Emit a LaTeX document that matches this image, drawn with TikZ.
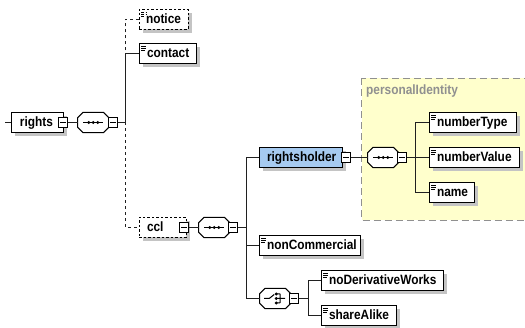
\documentclass[tikz,border=0pt]{standalone}
\usepackage{fontspec}
\setmainfont[FakeStretch=0.88]{Liberation Sans}
\usetikzlibrary{shadows}
\definecolor{shadowgray}{HTML}{C4C4C4}
\definecolor{linkgray}{HTML}{202020}
\definecolor{selblue}{HTML}{A6CAF0}
\definecolor{groupyellow}{HTML}{FFFFCC}
\definecolor{groupline}{HTML}{909090}
\tikzset{
  x=1pt,y=-1pt,
  shade box/.style={general shadow={shadow xshift=4pt,shadow yshift=-4pt,fill=shadowgray}},
  elbox/.style={draw=black,line width=1pt,fill=white,rectangle,anchor=west,inner xsep=0pt,inner ysep=0pt,
    text width=#1pt,align=left,minimum height=20pt,text height=10pt,text depth=1pt,
    font=\fontsize{13.5}{15}\selectfont\bfseries,shade box},
  optbox/.style={elbox=#1,dash pattern=on 2.5pt off 2pt},
  doc/.style={path picture={
    \draw[black,line width=.8pt]
      ([shift={(2pt,-2.5pt)}]path picture bounding box.north west) -- ++(5pt,0)
      ([shift={(2pt,-4.5pt)}]path picture bounding box.north west) -- ++(5pt,0)
      ([shift={(2pt,-6.5pt)}]path picture bounding box.north west) -- ++(3.5pt,0);}},
  compositor/.style={rectangle,inner sep=0pt,minimum width=31pt,minimum height=20pt,anchor=west},
  octline/.style={draw=black,line width=1pt,fill=white},
  minusbox/.style={draw=black,line width=1pt,fill=white,rectangle,inner sep=0pt,minimum width=9pt,minimum height=10pt,
    path picture={\draw[black,line width=1pt]
      ([xshift=-3pt]path picture bounding box.center) -- ([xshift=3pt]path picture bounding box.center);}},
  link/.style={draw=linkgray,line width=1pt},
  optlink/.style={link,dash pattern=on 3pt off 3pt},
  grouplabel/.style={text=groupline,inner sep=0pt,anchor=west,font=\fontsize{13.5}{15}\selectfont\bfseries},
  groupbox/.style={draw=groupline,fill=groupyellow,line width=1pt,dash pattern=on 7pt off 4pt},
}
\newcommand{\octpath}[1]{%
  ([xshift=5.5pt]#1.north west) -- ([xshift=-5.5pt]#1.north east) -- ([yshift=-5.5pt]#1.north east)
  -- ([yshift=5.5pt]#1.south east) -- ([xshift=-5.5pt]#1.south east) -- ([xshift=5.5pt]#1.south west)
  -- ([yshift=5.5pt]#1.south west) -- ([yshift=-5.5pt]#1.north west) -- cycle}
\newcommand{\octagon}[1]{%
  \fill[shadowgray,shift={(4pt,-4pt)}] \octpath{#1};
  \draw[octline] \octpath{#1};
}
\newcommand{\seqicon}[1]{%
  \octagon{#1}%
  \draw[black,line width=1pt] ([xshift=-10pt]#1.center) -- ([xshift=10pt]#1.center);
  \foreach \dx in {-4.5,0,4.5}{\fill[black] ([xshift=\dx pt]#1.center) circle (1.6pt);}%
}
\newcommand{\choiceicon}[1]{%
  \octagon{#1}%
  \draw[black,line width=1pt]
    ([xshift=-11pt]#1.center) -- ([xshift=-6pt]#1.center) -- ([shift={(-1pt,4pt)}]#1.center)
    ([xshift=1pt]#1.center) -- ([xshift=5pt]#1.center)
    ([shift={(5pt,4.5pt)}]#1.center) -- ([shift={(5pt,-4.5pt)}]#1.center)
    ([shift={(1pt,4.5pt)}]#1.center) -- ([shift={(5pt,4.5pt)}]#1.center)
    ([shift={(1pt,-4.5pt)}]#1.center) -- ([shift={(5pt,-4.5pt)}]#1.center)
    ([xshift=5pt]#1.center) -- ([xshift=10pt]#1.center);
  \foreach \dy in {-4.5,0,4.5}{\fill[black] ([shift={(1pt,\dy pt)}]#1.center) circle (1.6pt);}%
}
\begin{document}
\begin{tikzpicture}
\clip (0,0) rectangle (525,328);
\fill[white] (0,0) rectangle (525,328);
\useasboundingbox (0,0) rectangle (525,328);

\draw[groupbox] (361.5,78.5) rectangle (535,220.5);
\node[grouplabel] (grp) at (366,91) {personalIdentity};

% junctions
\coordinate (start) at (5,122.5);
\coordinate (t1) at (125,122.5);
\coordinate (t2) at (246,227.5);
\coordinate (t3) at (415,157.5);
\coordinate (t4) at (308,298.5);

% compositors
\node[compositor] (seq1) at (77.5,122.5) {};
\node[compositor] (seq2) at (198.5,227.5) {};
\node[compositor] (seq3) at (367.5,157.5) {};
\node[compositor] (choice) at (259.5,298.5) {};
\seqicon{seq1}\seqicon{seq2}\seqicon{seq3}\choiceicon{choice}

% elements
\node[elbox=52] (rights) at (10.5,122.5) {\hspace*{9pt}rights};
\node[minusbox] (rightsm) at (63,122.5) {};
\node[minusbox] (seq1m) at (113,122.5) {};
\node[optbox=49,doc] (notice) at (138.5,19.5) {\hspace*{7pt}notice};
\node[elbox=57,doc] (contact) at (138.5,53.5) {\hspace*{8pt}contact};
\node[optbox=47] (ccl) at (138.5,227.5) {\hspace*{8pt}ccl};
\node[minusbox] (cclm) at (184,227.5) {};
\node[minusbox] (seq2m) at (233,227.5) {};
\node[elbox=83,fill=selblue] (holder) at (258.5,157.5) {\hspace*{8pt}rightsholder};
\node[minusbox] (holderm) at (346,157.5) {};
\node[elbox=101,doc] (noncomm) at (258.5,245.5) {\hspace*{8pt}nonCommercial};
\node[minusbox] (choicem) at (294,298.5) {};
\node[elbox=122,doc] (noderiv) at (320.5,280.5) {\hspace*{8pt}noDerivativeWorks};
\node[elbox=75,doc] (share) at (320.5,315.5) {\hspace*{8pt}shareAlike};
\node[minusbox] (seq3m) at (402,157.5) {};
\node[elbox=87,doc] (ntype) at (428.5,122.5) {\hspace*{8pt}numberType};
\node[elbox=90,doc] (nvalue) at (428.5,157.5) {\hspace*{8pt}numberValue};
\node[elbox=45,doc] (nname) at (428.5,192.5) {\hspace*{8pt}name};

\draw[link] (start) -- (rights.west);
\draw[link] (rightsm.east) -- (seq1.west);
\draw[link] (seq1m.east) -- (t1);
\draw[optlink] (t1) |- (notice.west);
\draw[link] (t1) |- (contact.west);
\draw[optlink] (t1) |- (ccl.west);
\draw[link] (cclm.east) -- (seq2.west);
\draw[link] (seq2m.east) -- (t2);
\draw[link] (t2) |- (holder.west);
\draw[link] (t2) |- (noncomm.west);
\draw[link] (t2) |- (choice.west);
\draw[link] (choicem.east) -- (t4);
\draw[link] (t4) |- (noderiv.west);
\draw[link] (t4) |- (share.west);
\draw[link] (holderm.east) -- (seq3.west);
\draw[link] (seq3m.east) -- (t3);
\draw[link] (t3) |- (ntype.west);
\draw[link] (t3) -- (nvalue.west);
\draw[link] (t3) |- (nname.west);
\end{tikzpicture}
\end{document}
